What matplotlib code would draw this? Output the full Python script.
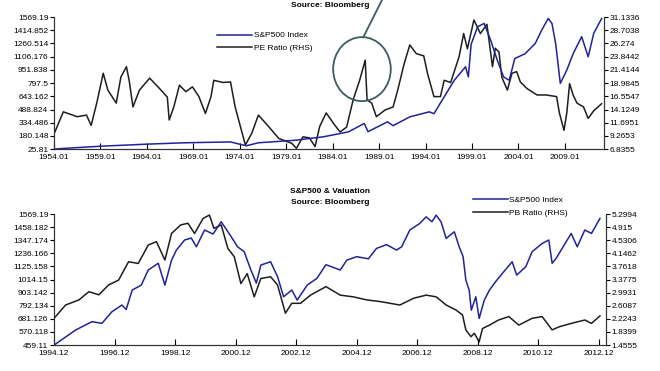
import numpy as np
import matplotlib
matplotlib.use('Agg')
import matplotlib.pyplot as plt
from matplotlib.patches import Ellipse

plt.rcParams['font.family'] = ['Liberation Sans', 'DejaVu Sans']
plt.rcParams['font.size'] = 6

# ---- top panel: S&P500 index vs PE ratio, 1954-2013 ----
spx_top_year = [1954.0, 1955.0, 1959.0, 1964.0, 1968.0, 1973.0, 1974.7, 1976.0, 1980.0, 1983.0,
                1985.7, 1987.4, 1987.8, 1989.9, 1990.5, 1992.3, 1994.4, 1994.9, 1996.0, 1997.1,
                1998.3, 1998.6, 1998.9, 1999.6, 2000.3, 2001.0, 2001.7, 2002.4, 2003.0, 2003.6,
                2004.7, 2005.8, 2006.5, 2007.2, 2007.6, 2008.0, 2008.5, 2009.2, 2009.9, 2010.8,
                2011.5, 2012.1, 2012.95]
spx_top_val = [26, 34, 60, 84, 100, 110, 65, 100, 130, 170,
               228, 326, 230, 345, 300, 403, 462, 440, 637, 832,
               988, 870, 1250, 1455, 1495, 1300, 1070, 870, 830, 1085,
               1140, 1260, 1417, 1553, 1495, 1260, 794, 950, 1145, 1340,
               1105, 1380, 1553]

pe_year = [1954.1, 1955.0, 1956.5, 1957.5, 1958.0, 1958.6, 1959.3, 1959.8, 1960.7, 1961.2,
           1961.8, 1962.1, 1962.5, 1963.2, 1964.3, 1965.3, 1966.2, 1966.4, 1966.9, 1967.5,
           1968.2, 1968.9, 1969.6, 1970.3, 1970.9, 1971.2, 1972.2, 1973.0, 1973.5, 1974.6,
           1975.3, 1976.0, 1977.1, 1978.2, 1979.6, 1980.1, 1980.8, 1981.5, 1982.1, 1982.6,
           1983.3, 1984.2, 1984.8, 1985.5, 1986.2, 1986.9, 1987.5, 1987.7, 1988.2, 1988.7,
           1989.6, 1990.5, 1991.0, 1991.7, 1992.3, 1993.0, 1993.8, 1994.2, 1994.9, 1995.6,
           1996.0, 1996.7, 1997.6, 1998.1, 1998.5, 1999.2, 1999.9, 2000.6, 2001.2, 2001.5,
           2001.9, 2002.2, 2002.8, 2003.3, 2003.8, 2004.2, 2004.9, 2006.0, 2007.0, 2008.1,
           2008.4, 2008.9, 2009.2, 2009.5, 2009.9, 2010.3, 2011.0, 2011.5, 2012.1, 2012.95]
pe_val = [10.0, 13.7, 12.8, 13.1, 11.2, 15.3, 20.8, 17.7, 15.3, 20.1,
          22.0, 19.4, 14.6, 17.7, 19.9, 18.1, 16.4, 12.2, 14.6, 18.6,
          17.4, 18.3, 16.5, 13.4, 16.5, 19.5, 19.1, 19.2, 14.6, 7.6,
          9.8, 13.1, 11.0, 8.8, 7.9, 7.0, 9.1, 8.9, 7.3, 11.0,
          13.5, 11.3, 10.0, 10.9, 15.9, 19.5, 23.2, 15.9, 15.3, 12.8,
          14.0, 14.6, 17.7, 22.6, 26.0, 24.4, 24.0, 20.8, 16.5, 16.5,
          19.5, 19.1, 23.8, 28.1, 25.3, 30.6, 28.1, 29.8, 22.0, 25.4,
          24.7, 20.1, 17.7, 20.8, 21.1, 19.2, 18.0, 16.8, 16.8, 16.5,
          13.5, 10.3, 13.5, 18.9, 16.7, 15.3, 14.6, 12.5, 13.9, 15.2]

top_xticks = list(range(1954, 2010, 5))
top_xlabels = [f'{y}.01' for y in top_xticks]
top_left_labels = ['25.81', '180.148', '334.486', '488.824', '643.162', '797.5', '951.838',
                   '1106.176', '1260.514', '1414.852', '1569.19']
top_right_labels = ['6.8355', '9.2653', '11.6951', '14.1249', '16.5547', '18.9845', '21.4144',
                    '23.8442', '26.274', '28.7038', '31.1336']

# ---- bottom panel: S&P500 index vs PB ratio, 1994.12-2012.12 ----
spx_bot_year = [1994.92, 1995.63, 1996.17, 1996.5, 1996.83, 1997.16, 1997.3, 1997.5, 1997.8, 1998.03,
                1998.36, 1998.58, 1998.8, 1998.96, 1999.23, 1999.45, 1999.62, 1999.89, 2000.17, 2000.44,
                2000.77, 2000.98, 2001.2, 2001.42, 2001.6, 2001.75, 2002.07, 2002.3, 2002.5, 2002.77,
                2002.95, 2003.28, 2003.6, 2003.9, 2004.37, 2004.59, 2004.92, 2005.3, 2005.57, 2005.9,
                2006.23, 2006.4, 2006.67, 2007.0, 2007.21, 2007.4, 2007.54, 2007.7, 2007.87, 2008.14,
                2008.3, 2008.43, 2008.52, 2008.63, 2008.7, 2008.85, 2008.96, 2009.13, 2009.3, 2009.5,
                2009.73, 2010.05, 2010.2, 2010.5, 2010.71, 2011.04, 2011.26, 2011.37, 2011.5, 2011.8,
                2012.0, 2012.2, 2012.45, 2012.67, 2012.95]
spx_bot_val = [459, 586, 657, 643, 741, 798, 760, 925, 967, 1095,
               1152, 967, 1179, 1264, 1349, 1366, 1292, 1434, 1400, 1504,
               1377, 1292, 1250, 1095, 984, 1137, 1165, 1040, 868, 925,
               840, 967, 1024, 1140, 1095, 1179, 1208, 1190, 1278, 1310,
               1264, 1292, 1434, 1490, 1546, 1504, 1560, 1504, 1363, 1419,
               1292, 1208, 1010, 925, 755, 868, 685, 840, 925, 995,
               1067, 1165, 1052, 1123, 1250, 1320, 1349, 1152, 1193, 1320,
               1405, 1292, 1434, 1405, 1532]

pb_year = [1994.92, 1995.3, 1995.74, 1996.07, 1996.4, 1996.72, 1997.05, 1997.38, 1997.7, 1998.03,
           1998.3, 1998.58, 1998.8, 1999.1, 1999.34, 1999.56, 1999.84, 2000.05, 2000.2, 2000.44,
           2000.66, 2000.87, 2001.09, 2001.3, 2001.53, 2001.75, 2002.07, 2002.3, 2002.56, 2002.77,
           2003.06, 2003.39, 2003.9, 2004.37, 2004.8, 2005.25, 2005.7, 2006.34, 2006.8, 2007.21,
           2007.54, 2007.87, 2008.2, 2008.41, 2008.52, 2008.69, 2008.8, 2008.96, 2009.07, 2009.3,
           2009.6, 2009.94, 2010.27, 2010.71, 2011.04, 2011.37, 2011.6, 2012.0, 2012.45, 2012.67,
           2012.95]
pb_val = [2.24, 2.63, 2.78, 3.02, 2.93, 3.22, 3.36, 3.90, 3.85, 4.39,
          4.49, 3.95, 4.73, 4.98, 5.03, 4.73, 5.17, 5.27, 4.88, 4.98,
          4.29, 4.05, 3.26, 3.55, 2.87, 3.41, 3.46, 3.22, 2.39, 2.68,
          2.68, 2.92, 3.17, 2.92, 2.87, 2.78, 2.73, 2.63, 2.83, 2.92,
          2.87, 2.63, 2.48, 2.34, 1.90, 1.70, 1.80, 1.55, 1.94, 2.04,
          2.19, 2.29, 2.04, 2.24, 2.29, 1.90, 1.99, 2.09, 2.19, 2.09,
          2.31]

bot_xticks = [y + 11 / 12 for y in range(1994, 2013, 2)]
bot_xlabels = [f'{y}.12' for y in range(1994, 2013, 2)]
bot_left_labels = ['459.11', '570.118', '681.126', '792.134', '903.142', '1014.15', '1125.158',
                   '1236.166', '1347.174', '1458.182', '1569.19']
bot_right_labels = ['1.4555', '1.8399', '2.2243', '2.6087', '2.9931', '3.3775', '3.7618',
                    '4.1462', '4.5306', '4.915', '5.2994']

BLUE = '#22229a'
DARK = '#1e1e1e'


def style_axes(ax, ax2, xlim, xticks, xlabels, llabels, rlabels):
    lo, hi = float(llabels[0]), float(llabels[-1])
    rlo, rhi = float(rlabels[0]), float(rlabels[-1])
    ax.set_xlim(*xlim)
    ax.set_ylim(lo, hi)
    ax2.set_ylim(rlo, rhi)
    ax.set_yticks(np.linspace(lo, hi, 11))
    ax.set_yticklabels(llabels)
    ax2.set_yticks(np.linspace(rlo, rhi, 11))
    ax2.set_yticklabels(rlabels)
    ax.set_xticks(xticks)
    ax.set_xticklabels(xlabels)
    ax.tick_params(axis='x', direction='in', length=4, pad=3.5, labelsize=6)
    ax.tick_params(axis='y', direction='out', length=3, pad=1, labelsize=6)
    ax2.tick_params(axis='y', direction='out', length=3, pad=1, labelsize=6)
    for a in (ax, ax2):
        a.spines['top'].set_visible(False)
        for s in ('left', 'right', 'bottom'):
            a.spines[s].set_linewidth(0.8)
            a.spines[s].set_color('#333333')
    ax.set_zorder(ax2.get_zorder() + 1)
    ax.patch.set_visible(False)


fig = plt.figure(figsize=(6.6, 3.71), dpi=100)

ax = fig.add_axes([0.0818, 0.598, 0.8333, 0.356])
ax2 = ax.twinx()
l1, = ax.plot(spx_top_year, spx_top_val, color=BLUE, lw=1.1, label='S&P500 Index')
l2, = ax2.plot(pe_year, pe_val, color=DARK, lw=1.1, label='PE Ratio (RHS)')
style_axes(ax, ax2, (1954.0, 2013.2), top_xticks, top_xlabels, top_left_labels, top_right_labels)
fig.legend(handles=[l1, l2], loc='upper left', bbox_to_anchor=(0.318, 0.935),
           frameon=False, handlelength=4.2, handletextpad=0.2, labelspacing=0.6, fontsize=6)

# circle around the 1987 PE spike
spike_year, spike_level = 1987.15, 961
ax.add_patch(Ellipse((spike_year, spike_level), 6.2, 748, fill=False,
                     edgecolor='#3f5a60', lw=1.3, clip_on=False, zorder=5))
ax.plot([spike_year + 0.15, spike_year + 2.3], [1335, 1800], color='#3f5a60', lw=1.3,
        clip_on=False, zorder=5)
fig.text(0.5, 0.984, 'Source: Bloomberg', ha='center', va='center', fontsize=6, weight='bold')

bx = fig.add_axes([0.0818, 0.070, 0.8364, 0.353])
bx2 = bx.twinx()
m1, = bx.plot(spx_bot_year, spx_bot_val, color=BLUE, lw=1.1, label='S&P500 Index')
m2, = bx2.plot(pb_year, pb_val, color=DARK, lw=1.1, label='PB Ratio (RHS)')
style_axes(bx, bx2, (1994.917, 2013.15), bot_xticks, bot_xlabels, bot_left_labels, bot_right_labels)
fig.legend(handles=[m1, m2], loc='upper left', bbox_to_anchor=(0.705, 0.492),
           frameon=False, handlelength=4.2, handletextpad=0.2, labelspacing=0.6, fontsize=6)
fig.text(0.5, 0.485, 'S&P500 & Valuation', ha='center', va='center', fontsize=6, weight='bold')
fig.text(0.5, 0.453, 'Source: Bloomberg', ha='center', va='center', fontsize=6, weight='bold')

fig.savefig('out.png', dpi=100)
